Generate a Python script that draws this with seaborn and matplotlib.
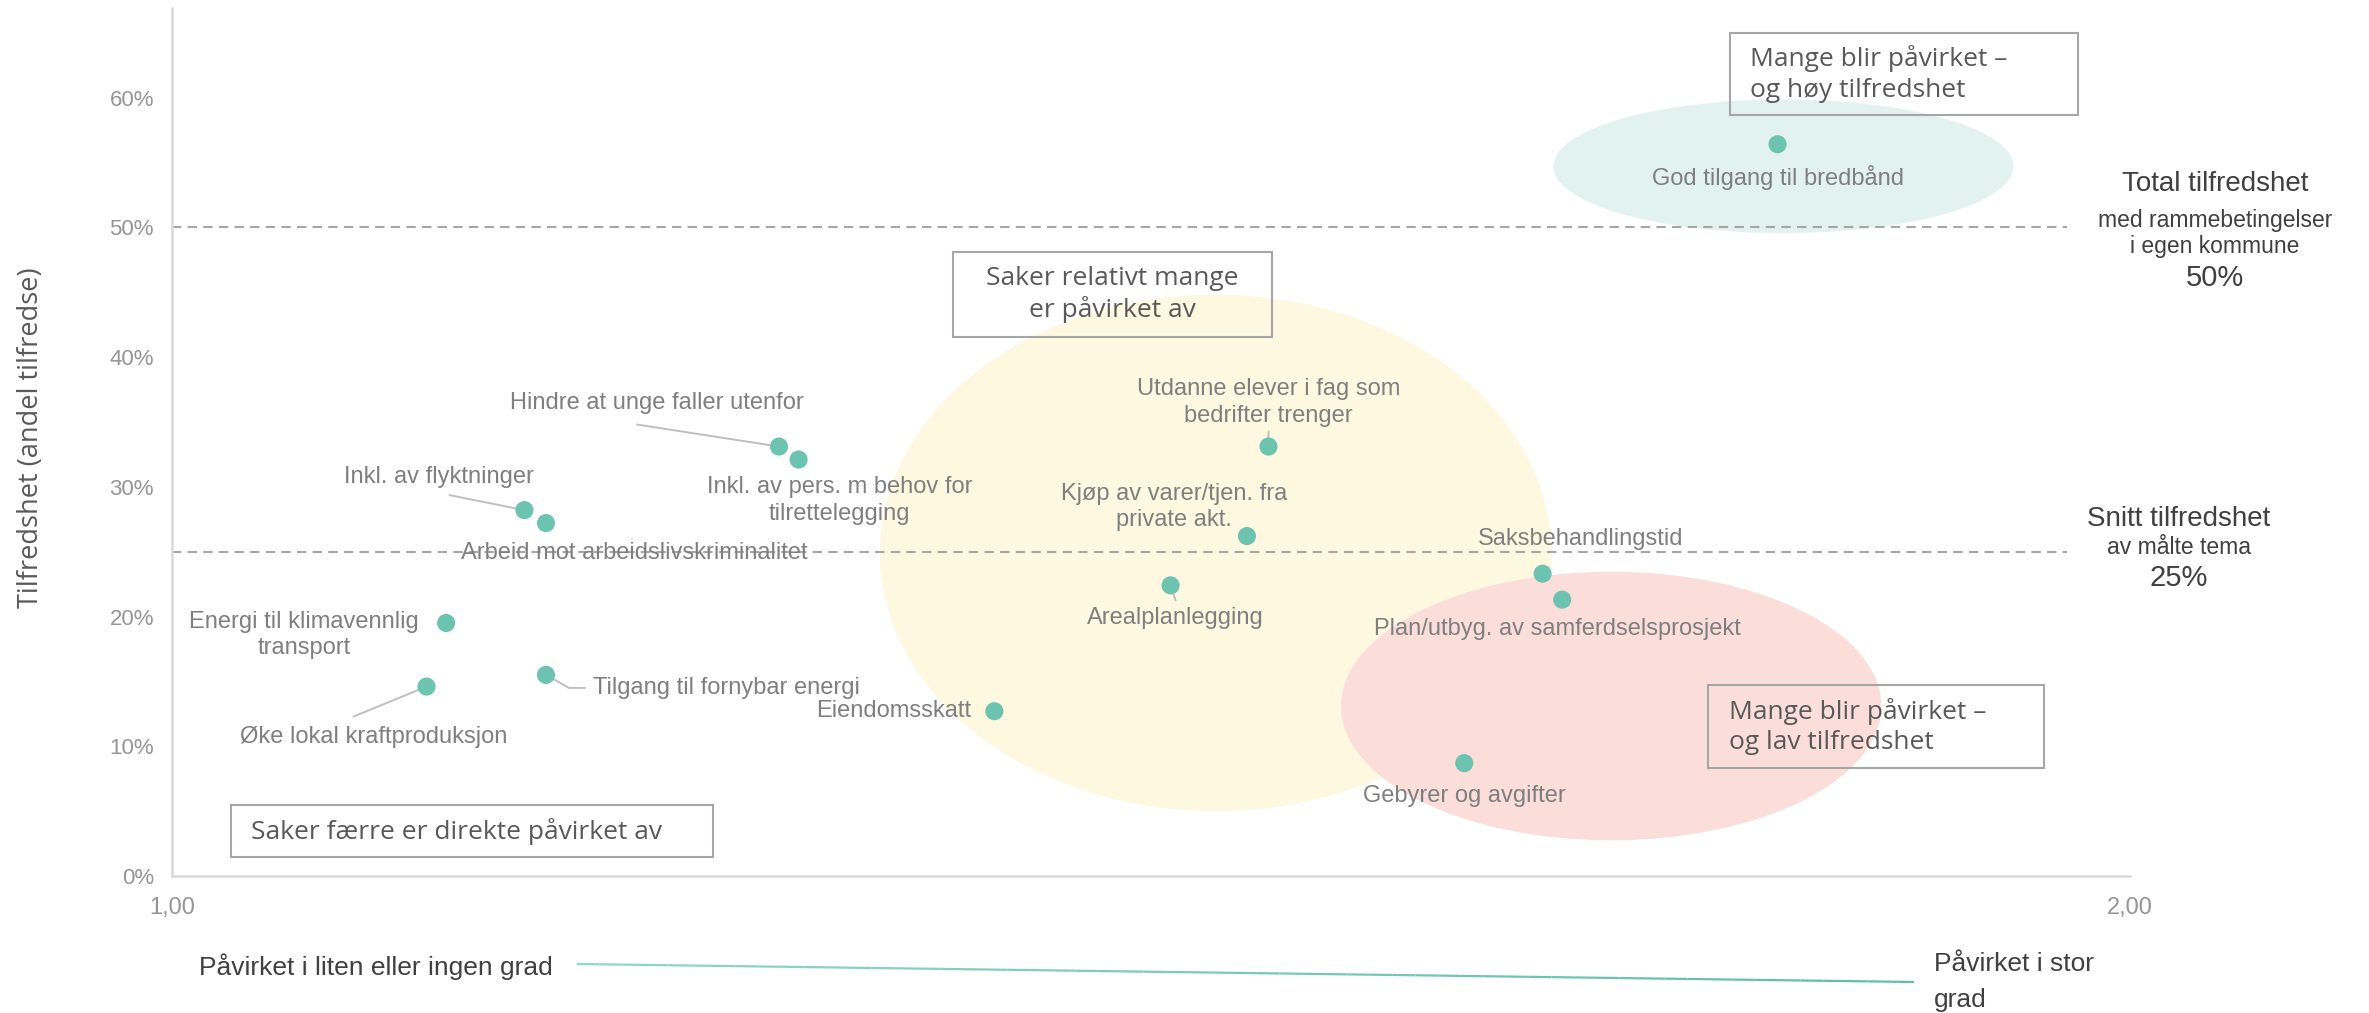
import numpy as np
import pandas as pd
import matplotlib
matplotlib.use("Agg")
import matplotlib.pyplot as plt
from matplotlib.patches import Ellipse, Rectangle
from matplotlib.collections import LineCollection
from matplotlib.colors import to_rgb
from matplotlib.transforms import offset_copy
import seaborn as sns

# data
topics = [
    "God tilgang til bredbånd",
    "Utdanne elever i fag som\nbedrifter trenger",
    "Kjøp av varer/tjen. fra\nprivate akt.",
    "Saksbehandlingstid",
    "Plan/utbyg. av samferdselsprosjekt",
    "Arealplanlegging",
    "Eiendomsskatt",
    "Gebyrer og avgifter",
    "Hindre at unge faller utenfor",
    "Inkl. av pers. m behov for\ntilrettelegging",
    "Inkl. av flyktninger",
    "Arbeid mot arbeidslivskriminalitet",
    "Energi til klimavennlig\ntransport",
    "Tilgang til fornybar energi",
    "Øke lokal kraftproduksjon",
]
impact = [1.820, 1.560, 1.549, 1.700, 1.710, 1.510, 1.420, 1.660,
          1.310, 1.320, 1.180, 1.191, 1.140, 1.191, 1.130]
satisfaction = [0.564, 0.331, 0.262, 0.233, 0.213, 0.224, 0.127, 0.087,
                0.331, 0.321, 0.282, 0.272, 0.195, 0.155, 0.146]

total_satisfaction = 0.50
mean_satisfaction = 0.25

y_ticks = [0.0, 0.1, 0.2, 0.3, 0.4, 0.5, 0.6]
x_ticks = [1.0, 2.0]
x_tick_labels = ["1,00", "2,00"]

W, H = 2369, 1013
ARIAL = ["Liberation Sans", "DejaVu Sans"]
GOTHIC = ["Open Sans", "DejaVu Sans"]

LABEL_GREY = "#7f7f7f"
DARK = "#404040"
DOT = "#6cc3b0"

# label layout: offset in pixels from the dot, horizontal alignment
label_pos = {
    0: (0, -33, "center"),
    1: (0, 44, "center"),
    2: (-73, 29, "center"),
    3: (38, 35, "center"),
    4: (-5, -29, "center"),
    5: (5, -33, "center"),
    6: (-23, 0, "right"),
    7: (0, -33, "center"),
    8: (-122, 44, "center"),
    9: (41, -41, "center"),
    10: (-86, 33, "center"),
    11: (88, -30, "center"),
    12: (-142, -12, "center"),
    13: (47, -13, "left"),
    14: (-53, -50, "center"),
}
# leader lines as pixel offsets from the dot
leaders = {
    8: [(0, 0), (-142, 22)],
    10: [(0, 0), (-75, 15)],
    14: [(0, 0), (-73, -30)],
    13: [(0, 0), (23, -13), (39, -13)],
    1: [(0, 0), (0, 15)],
    5: [(0, 0), (5, -15)],
}


def fx(px):
    return px / W


def fy(py):
    return 1 - py / H


def main():
    sns.set_theme(style="white")
    plt.rcParams["font.family"] = ARIAL

    fig = plt.figure(figsize=(W / 100, H / 100), dpi=100)
    ax = fig.add_axes([fx(172), fy(876), fx(2130) - fx(172), fy(8) - fy(876)])

    df = pd.DataFrame({"topic": topics, "impact": impact, "satisfaction": satisfaction})

    # background groups
    ax.add_patch(Ellipse((1.823, 0.547), 0.235, 0.103, color="#e2f2ee", lw=0, zorder=0))
    ax.add_patch(Ellipse((1.533, 0.249), 0.343, 0.398, color="#fef8e0", lw=0, zorder=0))
    ax.add_patch(Ellipse((1.735, 0.131), 0.276, 0.207, color="#fbdeda", lw=0, zorder=0.5))

    for yv in [total_satisfaction, mean_satisfaction]:
        ax.hlines(yv, 1.0, 1.968, colors="#a6a6a6", lw=1.5, linestyles=(0, (4.5, 3)), zorder=1)

    sns.scatterplot(data=df, x="impact", y="satisfaction", ax=ax, color=DOT,
                    s=170, edgecolor="none", zorder=3, legend=False)

    for i, row in df.iterrows():
        dx, dy, ha = label_pos[i]
        ax.annotate(row["topic"], xy=(row["impact"], row["satisfaction"]),
                    xytext=(dx, dy), textcoords="offset pixels", ha=ha, va="center",
                    fontsize=17, color=LABEL_GREY, linespacing=1.25, zorder=4)
        if i in leaders:
            pts = leaders[i]
            for (ax0, ay0), (ax1, ay1) in zip(pts[:-1], pts[1:]):
                tr = offset_copy(ax.transData, fig=fig, x=ax0, y=ay0, units="dots")
                ax.annotate("", xy=(row["impact"], row["satisfaction"]), xycoords=tr,
                            xytext=(ax1 - ax0, ay1 - ay0), textcoords="offset pixels",
                            arrowprops=dict(arrowstyle="-", color="#bfbfbf", lw=1.4,
                                            shrinkA=0, shrinkB=0), zorder=2)

    ax.set_xlim(1.0, 2.0)
    ax.set_ylim(0, 0.669)
    ax.set_xticks(x_ticks)
    ax.set_xticklabels(x_tick_labels)
    ax.set_yticks(y_ticks)
    ax.set_yticklabels([f"{v * 100:.0f}%" for v in y_ticks])
    ax.tick_params(axis="y", length=0, pad=13, labelsize=16, labelcolor="#959595")
    ax.tick_params(axis="x", length=0, pad=15, labelsize=17, labelcolor="#959595")
    ax.set_xlabel("")
    ax.set_ylabel("")
    for side in ["top", "right"]:
        ax.spines[side].set_visible(False)
    for side in ["left", "bottom"]:
        ax.spines[side].set_color("#d9d9d9")
        ax.spines[side].set_linewidth(1.8)
    ax.grid(False)

    fig.text(fx(31), fy(438), "Tilfredshet (andel tilfredse)", rotation=90,
             ha="center", va="center", fontsize=19.5, color="#595959", family=GOTHIC)

    # group boxes
    boxes = [
        ((1730, 33, 2078, 115), "Mange blir påvirket –\nog høy tilfredshet", 1750, "left"),
        ((953, 252, 1272, 337), "Saker relativt mange\ner påvirket av", 1112, "center"),
        ((1708, 685, 2044, 768), "Mange blir påvirket –\nog lav tilfredshet", 1729, "left"),
        ((231, 805, 713, 857), "Saker færre er direkte påvirket av", 251, "left"),
    ]
    for (x0, y0, x1, y1), txt, tx, ha in boxes:
        fig.add_artist(Rectangle((fx(x0), fy(y1)), fx(x1) - fx(x0), fy(y0) - fy(y1),
                                 transform=fig.transFigure, fill=False,
                                 edgecolor="#a6a6a6", lw=1.5, zorder=5))
        fig.text(fx(tx), fy((y0 + y1) / 2), txt, ha=ha, va="center", fontsize=19,
                 color="#595959", family=GOTHIC, linespacing=1.28, zorder=6)

    # right-hand notes
    fig.text(fx(2215), fy(184), "Total tilfredshet", ha="center", va="center", fontsize=20, color=DARK)
    fig.text(fx(2215), fy(220), "med rammebetingelser", ha="center", va="center", fontsize=16.5, color=DARK)
    fig.text(fx(2215), fy(246), "i egen kommune", ha="center", va="center", fontsize=16.5, color=DARK)
    fig.text(fx(2215), fy(278), f"{total_satisfaction * 100:.0f}%", ha="center", va="center", fontsize=21, color=DARK)
    fig.text(fx(2179), fy(519), "Snitt tilfredshet", ha="center", va="center", fontsize=20, color=DARK)
    fig.text(fx(2179), fy(547), "av målte tema", ha="center", va="center", fontsize=16.5, color=DARK)
    fig.text(fx(2179), fy(578), f"{mean_satisfaction * 100:.0f}%", ha="center", va="center", fontsize=21, color=DARK)

    # bottom axis explanation with gradient line
    fig.text(fx(199), fy(967), "Påvirket i liten eller ingen grad", ha="left", va="center", fontsize=19, color=DARK)
    fig.text(fx(1934), fy(982), "Påvirket i stor\ngrad", ha="left", va="center", fontsize=19,
             color=DARK, linespacing=1.6)
    n = 60
    xs = np.linspace(fx(577), fx(1914), n)
    ys = np.linspace(fy(964), fy(982), n)
    segs = [[(xs[k], ys[k]), (xs[k + 1], ys[k + 1])] for k in range(n - 1)]
    c0, c1 = np.array(to_rgb("#8fd6c7")), np.array(to_rgb("#5dbfa8"))
    cols = [c0 + (c1 - c0) * k / (n - 2) for k in range(n - 1)]
    fig.add_artist(LineCollection(segs, colors=cols, linewidths=1.6, transform=fig.transFigure))

    fig.savefig("out.png", dpi=100, facecolor="white")


if __name__ == "__main__":
    main()
